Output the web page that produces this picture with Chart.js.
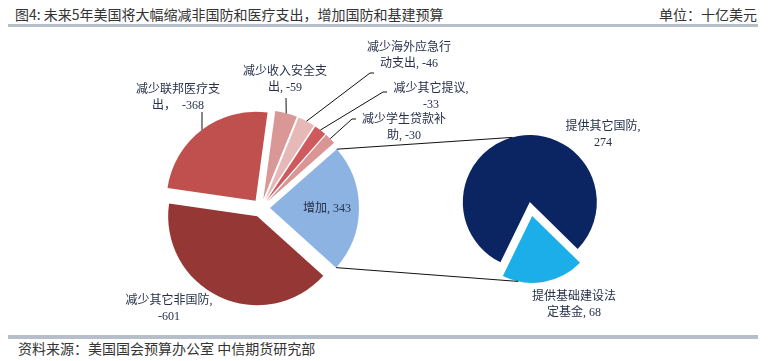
<!DOCTYPE html>
<html>
<head>
<meta charset="utf-8">
<script src="https://cdn.jsdelivr.net/npm/chart.js@4.4.0/dist/chart.umd.min.js"></script>
<style>
  html, body { margin:0; padding:0; background:#fff; }
  #wrap { position:relative; width:770px; height:361px; overflow:hidden; font-family:"Noto Sans CJK SC", sans-serif; }
  canvas { position:absolute; left:0; top:0; }
  .t { position:absolute; font-size:14px; color:#333; white-space:nowrap; line-height:16px; }
  .bar { position:absolute; background:#b5bec9; }
</style>
</head>
<body>
<div id="wrap">
  <div class="t" style="left:15px; top:6px;">图4: 未来5年美国将大幅缩减非国防和医疗支出，增加国防和基建预算</div>
  <div class="t" style="right:13px; top:6px;">单位：十亿美元</div>
  <div class="bar" style="left:8px; width:750px; top:24px; height:3px;"></div>
  <div class="bar" style="left:8px; width:750px; top:335px; height:4px;"></div>
  <div class="t" style="left:18px; top:340px;">资料来源：美国国会预算办公室 中信期货研究部</div>
  <canvas id="left" width="770" height="361"></canvas>
  <canvas id="right" width="770" height="361"></canvas>
</div>
<script>
// ---- data ----
const leftLabels = ['增加', '减少其它非国防', '减少联邦医疗支出', '减少收入安全支出', '减少海外应急行动支出', '减少其它提议', '减少学生贷款补助'];
const leftValues = [343, -601, -368, -59, -46, -33, -30];
const rightLabels = ['提供其它国防', '提供基础建设法定基金'];
const rightValues = [274, 68];

// ---- styles ----
const leftColors = ['#8db3e2', '#953735', '#c0504d', '#d99795', '#e6b9b8', '#cf5a5d', '#d99694'];
const rightColors = ['#0b2462', '#1caee8'];
const labelColor = '#26304a';
const labelFont = '12px "Liberation Serif", "Noto Sans CJK SC", serif';

// label layout: text lines ({v} = value), centre x, first-line y, leader anchor points
const leftLayout = [
  { lines: ['增加, {v}'], x: 327, y: 209 },
  { lines: ['减少其它非国防,', '{v}'], x: 169, y: 301 },
  { lines: ['减少联邦医疗支', '出，  {v}'], x: 178, y: 90, leader: [[202, 112]] },
  { lines: ['减少收入安全支', '出, {v}'], x: 285, y: 72, leader: [[286, 98]] },
  { lines: ['减少海外应急行', '动支出, {v}'], x: 409, y: 48, leader: [[370, 73], [374, 73]] },
  { lines: ['减少其它提议,', '{v}'], x: 431, y: 89, leader: [[383, 92], [387, 92]] },
  { lines: ['减少学生贷款补', '助, {v}'], x: 404, y: 120, leader: [[352, 119], [356, 119]] }
];
const rightLayout = [
  { lines: ['提供其它国防,', '{v}'], x: 603, y: 127 },
  { lines: ['提供基础建设法', '定基金, {v}'], x: 574, y: 297 }
];

const explode = {
  id: 'explode',
  afterDatasetsUpdate(chart, args, opts) {
    const d = opts.distance || 0;
    chart.getDatasetMeta(0).data.forEach(arc => {
      const mid = (arc.startAngle + arc.endAngle) / 2;
      arc.x += Math.cos(mid) * d;
      arc.y += Math.sin(mid) * d;
    });
  }
};

function edgePoint(arc, frac) {
  const a = arc.startAngle + (arc.endAngle - arc.startAngle) * frac;
  return [arc.x + Math.cos(a) * arc.outerRadius, arc.y + Math.sin(a) * arc.outerRadius];
}

function drawLabels(chart, layout, values) {
  const ctx = chart.ctx;
  const arcs = chart.getDatasetMeta(0).data;
  ctx.save();
  ctx.font = labelFont;
  ctx.fillStyle = labelColor;
  ctx.textAlign = 'center';
  ctx.textBaseline = 'middle';
  layout.forEach((L, i) => {
    L.lines.forEach((line, k) => {
      ctx.fillText(line.replace('{v}', String(values[i])), L.x, L.y + k * 16);
    });
    if (L.leader) {
      const p = edgePoint(arcs[i], 0.5);
      ctx.beginPath();
      ctx.strokeStyle = '#111';
      ctx.lineWidth = 1;
      ctx.moveTo(p[0], p[1]);
      L.leader.forEach(q => ctx.lineTo(q[0], q[1]));
      ctx.stroke();
    }
  });
  ctx.restore();
}

const leftLabelPlugin = { id: 'leftLabels', afterDraw(chart) { drawLabels(chart, leftLayout, leftValues); } };

const leftChart = new Chart(document.getElementById('left'), {
  type: 'pie',
  data: { labels: leftLabels, datasets: [{ data: leftValues.map(Math.abs), backgroundColor: leftColors, borderWidth: 0, clip: false }] },
  options: {
    responsive: false, animation: false, events: [],
    rotation: 48.6,
    layout: { padding: { left: 172, right: 420, top: 119, bottom: 64 } },
    plugins: { legend: { display: false }, tooltip: { enabled: false }, explode: { distance: 9 } }
  },
  plugins: [explode, leftLabelPlugin]
});

const connector = {
  id: 'connector',
  afterDraw(chart) {
    const ctx = chart.ctx;
    const src = leftChart.getDatasetMeta(0).data[0];
    const arcs = chart.getDatasetMeta(0).data;
    const p1 = edgePoint(src, 0), p2 = edgePoint(src, 1);
    const a1 = -Math.PI / 2 - 15 * Math.PI / 180;
    const a2 = Math.PI / 2 + 12 * Math.PI / 180;
    const q1 = [arcs[0].x + Math.cos(a1) * arcs[0].outerRadius, arcs[0].y + Math.sin(a1) * arcs[0].outerRadius];
    const q2 = [arcs[1].x + Math.cos(a2) * arcs[1].outerRadius, arcs[1].y + Math.sin(a2) * arcs[1].outerRadius];
    ctx.save();
    ctx.strokeStyle = '#111';
    ctx.lineWidth = 1;
    ctx.beginPath();
    ctx.moveTo(p1[0], p1[1]); ctx.lineTo(q1[0], q1[1]);
    ctx.moveTo(p2[0], p2[1]); ctx.lineTo(q2[0], q2[1]);
    ctx.stroke();
    ctx.restore();
    drawLabels(chart, rightLayout, rightValues);
  }
};

const rightChart = new Chart(document.getElementById('right'), {
  type: 'pie',
  data: { labels: rightLabels, datasets: [{ data: rightValues, backgroundColor: rightColors, borderWidth: 0, clip: false }] },
  options: {
    responsive: false, animation: false, events: [],
    rotation: 206,
    layout: { padding: { left: 464, right: 172, top: 142, bottom: 85 } },
    plugins: { legend: { display: false }, tooltip: { enabled: false }, explode: { distance: 7 } }
  },
  plugins: [explode, connector]
});
</script>
</body>
</html>
